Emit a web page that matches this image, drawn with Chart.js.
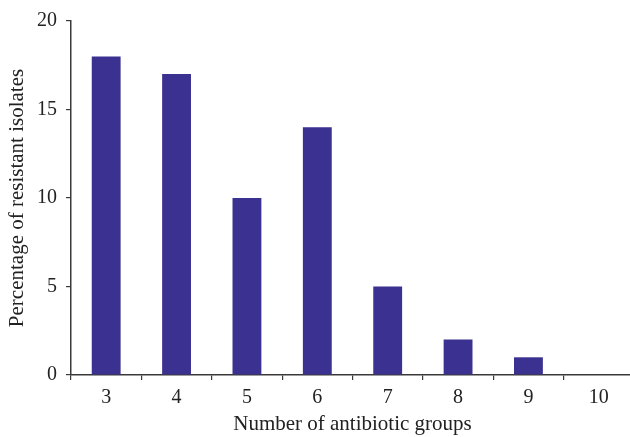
<!DOCTYPE html>
<html>
<head>
<meta charset="utf-8">
<script src="https://cdn.jsdelivr.net/npm/chart.js@4.4.0/dist/chart.umd.min.js"></script>
<style>
html,body{margin:0;padding:0;background:#fff;overflow:hidden;}
#wrap{width:636px;height:437px;position:relative;}
</style>
</head>
<body>
<div id="wrap"><canvas id="c" width="636" height="437"></canvas></div>
<script>
const categories = ["3","4","5","6","7","8","9","10"];
const percentages = [18, 17, 10, 14, 5, 2, 1, 0];
const yTicks = [0, 5, 10, 15, 20];

const fontFamily = "'Liberation Serif', 'DejaVu Serif', serif";
const axisColor = '#3a3a3a';

new Chart(document.getElementById('c'), {
  type: 'bar',
  data: {
    labels: categories,
    datasets: [{
      data: percentages,
      backgroundColor: '#3a3190',
      borderWidth: 0,
      barPercentage: 0.41,
      categoryPercentage: 1.0
    }]
  },
  options: {
    responsive: false,
    animation: false,
    devicePixelRatio: 1,
    layout: { padding: { top: 21, right: 2, left: 0, bottom: 0 } },
    plugins: { legend: { display: false }, tooltip: { enabled: false } },
    scales: {
      x: {
        offset: true,
        grid: { display: true, offset: true, drawOnChartArea: false, tickLength: 5, color: axisColor, lineWidth: 1.2 },
        border: { display: true, color: axisColor, width: 1.5 },
        ticks: { color: '#222', font: { family: fontFamily, size: 20 }, padding: 6 },
        title: { display: true, text: 'Number of antibiotic groups', color: '#222', font: { family: fontFamily, size: 21 }, padding: { top: 2, bottom: 0 } },
        afterFit: (s) => { s.height = 62; }
      },
      y: {
        min: 0, max: 20,
        afterBuildTicks: (s) => { s.ticks = yTicks.map(v => ({ value: v })); },
        grid: { display: true, drawOnChartArea: false, tickLength: 5, color: axisColor, lineWidth: 1.2 },
        border: { display: true, color: axisColor, width: 1.5 },
        ticks: { color: '#222', font: { family: fontFamily, size: 20 }, padding: 9 },
        title: { display: true, text: 'Percentage of resistant isolates', color: '#222', font: { family: fontFamily, size: 21 }, padding: { top: 5, bottom: 4 } },
        afterFit: (s) => { s.width = 71; }
      }
    }
  }
});
</script>
</body>
</html>
